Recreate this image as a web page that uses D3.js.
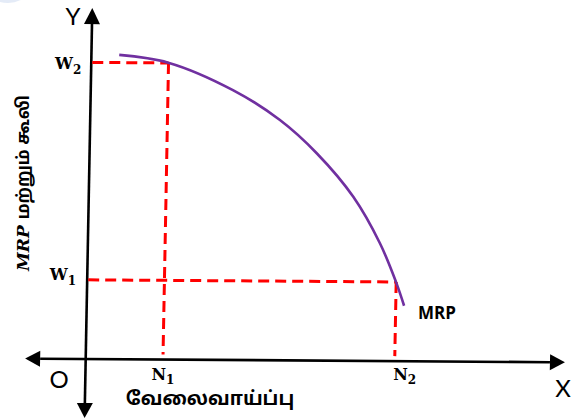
<!DOCTYPE html>
<html>
<head>
<meta charset="utf-8">
<script src="https://cdn.jsdelivr.net/npm/d3@7"></script>
<style>
  body { margin: 0; background: #fff; }
  svg { display: block; }
</style>
</head>
<body>
<svg></svg>
<script>
// MRP curve (employment share, wage share)
const mrpEmployment = [0.090, 0.249, 0.460, 0.614, 0.735, 0.856, 0.945, 0.999, 1.027];
const mrpWage = [1.026, 1.001, 0.910, 0.810, 0.699, 0.553, 0.397, 0.268, 0.187];

// wage levels on Y axis, employment levels on X axis
const wageNames = ["W", "W"];
const wageSubs = ["2", "1"];
const wageValues = [1, 0.267];
const empNames = ["N", "N"];
const empSubs = ["1", "2"];
const empValues = [0.25, 1];

// axis extents in data units
const xAxisExtent = [-0.196, 1.551];
const yAxisExtent = [-0.199, 1.183];

const width = 587, height = 420;
const origin = [85.7, 359], shear = [0.0069, -0.0188];
const red = "#ff0000", purple = "#7030a0";
const tamil = "'Noto Sans Tamil', 'Lohit Tamil', Latha, sans-serif";

var svg = d3.select("svg")
    .attr("width", width)
    .attr("height", height)

var x = d3.scaleLinear().domain([0, 1]).range([0, 309]),
    y = d3.scaleLinear().domain([0, 1]).range([0, -296.6])

// the drawing in the picture is slightly skewed, keep it that way
function project(u, v) {
    let X = x(u), Y = y(v)
    return [origin[0] + X + shear[1] * Y, origin[1] + Y + shear[0] * X]
}

svg.append("ellipse")
    .attr("cx", 8).attr("cy", -6).attr("rx", 17).attr("ry", 9)
    .style("fill", "#e4ebf7")

var plot = svg.append("g")
    .attr("transform", `matrix(1,${shear[0]},${shear[1]},1,${origin[0]},${origin[1]})`)

// axes
var arrowLen = 15, arrowHalf = 8
var x0 = x(xAxisExtent[0]), x1 = x(xAxisExtent[1]),
    yb = y(yAxisExtent[0]), yt = y(yAxisExtent[1])

plot.append("line")
    .attr("x1", x0 + arrowLen).attr("y1", y(0))
    .attr("x2", x1 - arrowLen).attr("y2", y(0))
    .style("stroke", "#000").style("stroke-width", 2.6)
plot.append("line")
    .attr("x1", x(0)).attr("y1", yb - arrowLen)
    .attr("x2", x(0)).attr("y2", yt + arrowLen)
    .style("stroke", "#000").style("stroke-width", 2.6)

var arrows = [
    [[x1, 0], [x1 - arrowLen, -arrowHalf], [x1 - arrowLen, arrowHalf]],
    [[x0, 0], [x0 + arrowLen, -arrowHalf], [x0 + arrowLen, arrowHalf]],
    [[0, yt], [-arrowHalf, yt + arrowLen + 1], [arrowHalf, yt + arrowLen + 1]],
    [[0, yb], [-arrowHalf, yb - arrowLen], [arrowHalf, yb - arrowLen]]
]
plot.selectAll(".arrow")
    .data(arrows)
    .enter().append("path")
    .attr("class", "arrow")
    .attr("d", d => "M" + d.join("L") + "Z")
    .style("fill", "#000")

// dashed guides: W2 with N1, W1 with N2
wageValues.forEach((w, i) => {
    let n = empValues[i]
    plot.append("line")
        .attr("x1", x(0) + 1).attr("y1", y(w))
        .attr("x2", x(n)).attr("y2", y(w))
        .style("stroke", red).style("stroke-width", 3)
        .style("stroke-dasharray", "11,6")
    plot.append("line")
        .attr("x1", x(n)).attr("y1", y(w))
        .attr("x2", x(n)).attr("y2", y(0) - 5)
        .style("stroke", red).style("stroke-width", 3)
        .style("stroke-dasharray", "11,6")
})

// MRP curve
var mrpLine = d3.line()
    .x(d => x(d[0]))
    .y(d => y(d[1]))
    .curve(d3.curveCatmullRom)

plot.append("path")
    .datum(d3.zip(mrpEmployment, mrpWage))
    .attr("d", mrpLine)
    .style("fill", "none")
    .style("stroke", purple)
    .style("stroke-width", 2.6)

// labels
var labels = svg.append("g")

var wageOffsets = [[-10, 7], [-11, 0]]
wageValues.forEach((w, i) => {
    let p = project(0, w)
    let t = labels.append("text")
        .attr("x", p[0] + wageOffsets[i][0]).attr("y", p[1] + wageOffsets[i][1])
        .attr("text-anchor", "end")
        .style("font-family", "'DejaVu Serif', serif")
        .style("font-weight", "bold")
        .style("font-size", "16px")
    t.append("tspan").text(wageNames[i])
    t.append("tspan").attr("dy", 5).style("font-size", "12px").text(wageSubs[i])
})

var empOffsets = [[0, 20], [10, 19]]
empValues.forEach((n, i) => {
    let p = project(n, 0)
    let t = labels.append("text")
        .attr("x", p[0] + empOffsets[i][0]).attr("y", p[1] + empOffsets[i][1])
        .attr("text-anchor", "middle")
        .style("font-family", "'DejaVu Serif', serif")
        .style("font-weight", "bold")
        .style("font-size", "16px")
    t.append("tspan").text(empNames[i])
    t.append("tspan").attr("dy", 4).style("font-size", "12px").text(empSubs[i])
})

var letterStyle = t => t
    .style("font-family", "Lato, sans-serif")
    .style("font-size", "24px")
    .attr("text-anchor", "middle")

labels.append("text").attr("x", 59).attr("y", 388).text("O").call(letterStyle)
labels.append("text").attr("x", 563).attr("y", 397).text("X").call(letterStyle)
labels.append("text").attr("x", 73).attr("y", 25).text("Y").call(letterStyle)

labels.append("text")
    .attr("x", 418).attr("y", 319)
    .style("font-family", "'Open Sans', sans-serif")
    .style("font-weight", "bold")
    .style("font-size", "17px")
    .text("MRP")

labels.append("text")
    .attr("x", 210).attr("y", 405)
    .attr("text-anchor", "middle")
    .style("font-family", tamil)
    .style("font-weight", "bold")
    .style("font-size", "19px")
    .text("வேலைவாய்ப்பு")

var yTitle = labels.append("text")
    .attr("transform", "translate(29,183) rotate(-90)")
    .attr("text-anchor", "middle")
    .style("font-weight", "bold")
    .style("font-size", "17px")
yTitle.append("tspan")
    .style("font-family", "'DejaVu Serif', serif")
    .style("font-style", "italic")
    .text("MRP ")
yTitle.append("tspan")
    .style("font-family", tamil)
    .text("மற்றும் கூலி")
</script>
</body>
</html>
